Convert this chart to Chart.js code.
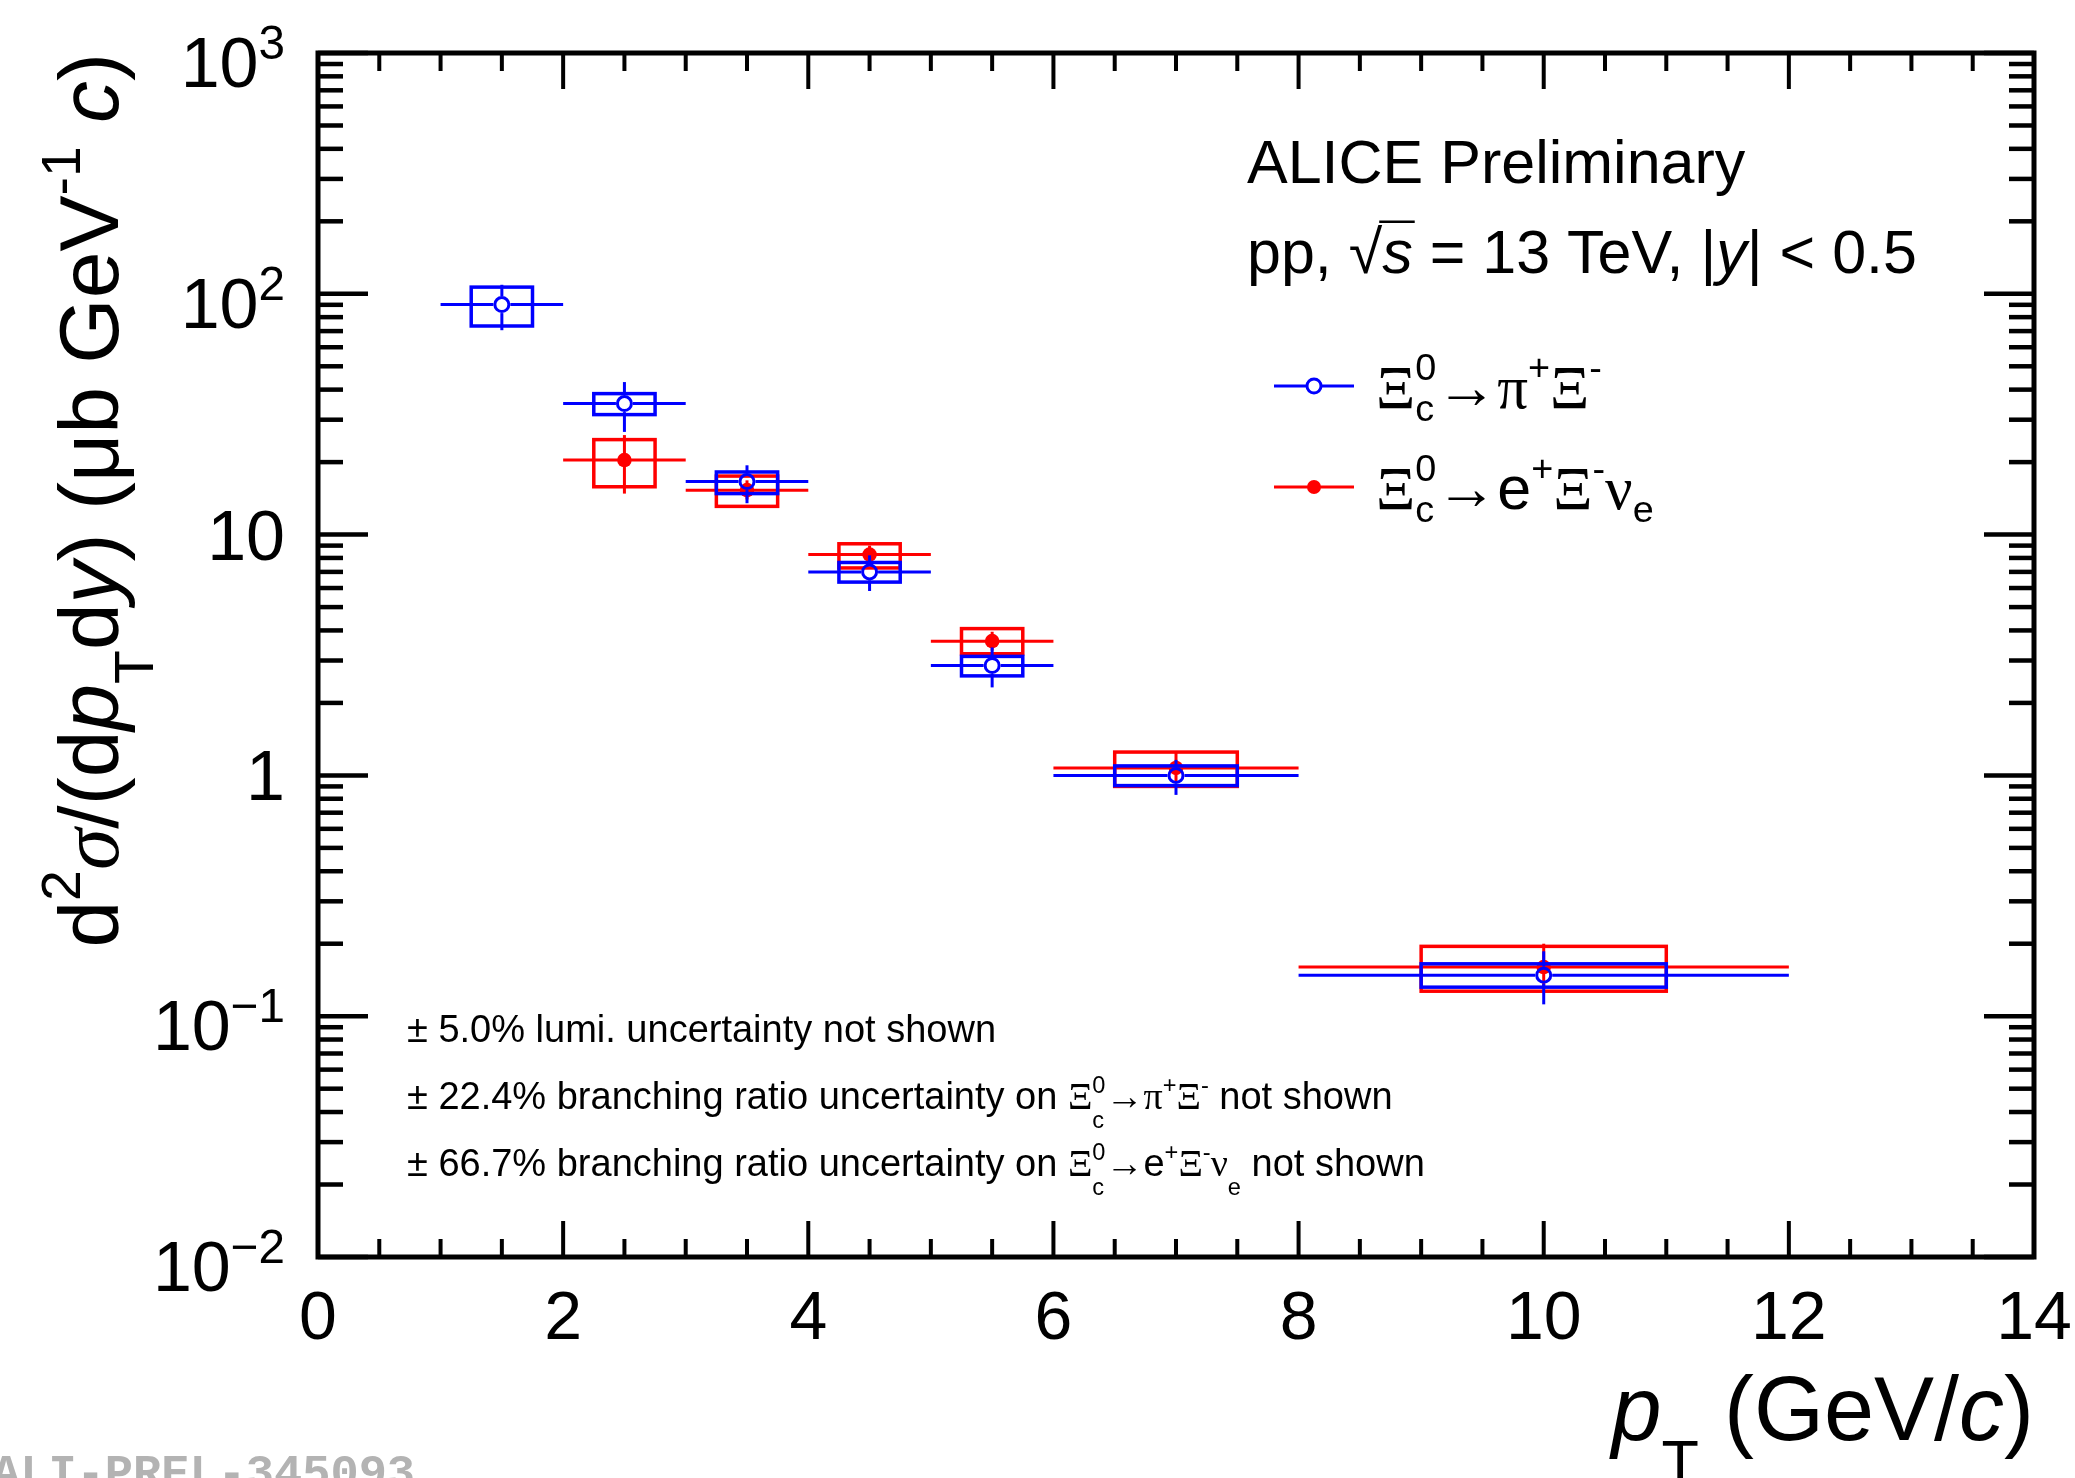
<!DOCTYPE html>
<html lang="en">
  <head>
    <meta charset="UTF-8" />
    <title>Xi_c0 cross section, pp 13 TeV</title>
    <script src="https://cdn.jsdelivr.net/npm/chart.js"></script>
    <style>
      html, body { margin: 0; padding: 0; background: #fff; }
      canvas { display: block; }
    </style>
  </head>
  <body>
    <canvas id="myChart" width="2075" height="1478"></canvas>

    <script>
      // axis ticks
      const xMajor = [0, 2, 4, 6, 8, 10, 12, 14];
      const xLabels = ["0", "2", "4", "6", "8", "10", "12", "14"];
      const yDecades = [0.01, 0.1, 1, 10, 100, 1000];
      const yLabelBase = ["10", "10", "1", "10", "10", "10"];
      const yLabelExp = ["\u22122", "\u22121", "", "", "2", "3"];

      // Xi_c0 -> pi+ Xi- (blue, open circles)
      const ptPiXi = [1.5, 2.5, 3.5, 4.5, 5.5, 7, 10];
      const binPiXi = [0.5, 0.5, 0.5, 0.5, 0.5, 1, 2];
      const boxPiXi = [0.25, 0.25, 0.25, 0.25, 0.25, 0.5, 1];
      const xsecPiXi = [90.2, 35.0, 16.6, 7.0, 2.86, 1.0, 0.148];
      const statLoPiXi = [70.6, 26.7, 13.5, 5.83, 2.32, 0.83, 0.112];
      const statHiPiXi = [109, 43.0, 19.4, 8.2, 3.4, 1.16, 0.186];
      const sysLoPiXi = [73.5, 31.5, 14.8, 6.35, 2.59, 0.907, 0.132];
      const sysHiPiXi = [106.6, 38.5, 18.2, 7.66, 3.12, 1.095, 0.165];

      // Xi_c0 -> e+ Xi- nu_e (red, full circles)
      const ptEXi = [2.5, 3.5, 4.5, 5.5, 7, 10];
      const binEXi = [0.5, 0.5, 0.5, 0.5, 1, 2];
      const boxEXi = [0.25, 0.25, 0.25, 0.25, 0.5, 1];
      const xsecEXi = [20.4, 15.3, 8.26, 3.61, 1.074, 0.16];
      const statLoEXi = [14.8, 14.0, 7.6, 3.3, 0.93, 0.13];
      const statHiEXi = [25.9, 16.8, 9.0, 3.95, 1.25, 0.2];
      const sysLoEXi = [15.8, 13.1, 7.27, 3.2, 0.9, 0.127];
      const sysHiEXi = [24.8, 17.5, 9.16, 4.07, 1.25, 0.195];

      const BLUE = "#0000ff";
      const RED = "#ff0000";
      const SANS = "'Liberation Sans', Arial, Helvetica, sans-serif";
      const SERIF = "'Liberation Serif', 'Times New Roman', serif";

      function fontStr(size, italic, serif) {
        return (italic ? "italic " : "") + size.toFixed(1) + "px " + (serif ? SERIF : SANS);
      }

      // runs: [text, flags]  flags: i italic, g serif, ^ sup, _ sub, & no advance (stack), o overline
      function drawRich(ctx, runs, x0, y0, size, o, align) {
        const items = [];
        let x = 0, held = 0;
        for (const [t, f = ""] of runs) {
          const small = f.includes("^") || f.includes("_");
          const font = fontStr(size * (small ? o.ss : 1), f.includes("i"), f.includes("g"));
          ctx.font = font;
          const w = ctx.measureText(t).width;
          const dy = f.includes("^") ? -size * o.up : f.includes("_") ? size * o.down : 0;
          items.push({ t, x, dy, font, w, over: f.includes("o") });
          if (f.includes("&")) {
            held = w;
          } else {
            x += Math.max(w, held);
            held = 0;
          }
        }
        const shift = align === "right" ? -x : 0;
        ctx.textAlign = "left";
        ctx.textBaseline = "alphabetic";
        for (const it of items) {
          ctx.font = it.font;
          ctx.fillText(it.t, x0 + it.x + shift, y0 + it.dy);
          if (it.over) {
            ctx.save();
            ctx.lineWidth = 2.5;
            ctx.beginPath();
            ctx.moveTo(x0 + it.x + shift - 3, y0 - size * 0.84);
            ctx.lineTo(x0 + it.x + shift + it.w + 2, y0 - size * 0.84);
            ctx.stroke();
            ctx.restore();
          }
        }
        return x;
      }

      function seg(ctx, x1, y1, x2, y2) {
        ctx.beginPath();
        ctx.moveTo(x1, y1);
        ctx.lineTo(x2, y2);
        ctx.stroke();
      }

      // statistical error bars and systematic boxes, drawn below each dataset's markers
      const errorBoxes = {
        id: "errorBoxes",
        beforeDatasetDraw(chart, args) {
          const ds = chart.data.datasets[args.index];
          const { ctx, scales: { x: xs, y: ys } } = chart;
          ctx.save();
          ctx.strokeStyle = ds.borderColor;
          ds.data.forEach((p, i) => {
            const px = xs.getPixelForValue(p.x);
            const py = ys.getPixelForValue(p.y);
            const g = ds.gap;
            ctx.lineWidth = 3;
            seg(ctx, xs.getPixelForValue(p.x - ds.bin[i]), py, px - g, py);
            seg(ctx, px + g, py, xs.getPixelForValue(p.x + ds.bin[i]), py);
            seg(ctx, px, ys.getPixelForValue(ds.statHi[i]), px, py - g);
            seg(ctx, px, py + g, px, ys.getPixelForValue(ds.statLo[i]));
            ctx.lineWidth = 3.5;
            const bx0 = xs.getPixelForValue(p.x - ds.box[i]);
            const bx1 = xs.getPixelForValue(p.x + ds.box[i]);
            const by0 = ys.getPixelForValue(ds.sysHi[i]);
            const by1 = ys.getPixelForValue(ds.sysLo[i]);
            ctx.strokeRect(bx0, by0, bx1 - bx0, by1 - by0);
          });
          ctx.restore();
        },
      };

      // ROOT-like frame with inward ticks on all sides, tick labels and titles
      const frameAndText = {
        id: "frameAndText",
        afterDraw(chart) {
          const { ctx, chartArea: a, scales: { x: xs, y: ys } } = chart;
          ctx.save();
          ctx.strokeStyle = "#000";
          ctx.fillStyle = "#000";

          ctx.lineWidth = 4.5;
          yDecades.forEach((d) => {
            for (let k = 1; k <= 9; k++) {
              const v = d * k;
              if (v > ys.max * 1.0001) break;
              const py = ys.getPixelForValue(v);
              const len = k === 1 ? 50 : 25;
              seg(ctx, a.left, py, a.left + len, py);
              seg(ctx, a.right, py, a.right - len, py);
            }
          });
          ctx.lineWidth = 4;
          for (let v = xs.min; v <= xs.max; v += 0.5) {
            const px = xs.getPixelForValue(v);
            const len = xMajor.includes(v) ? 36 : 18;
            seg(ctx, px, a.bottom, px, a.bottom - len);
            seg(ctx, px, a.top, px, a.top + len);
          }
          ctx.lineWidth = 5;
          ctx.strokeRect(a.left, a.top, a.right - a.left, a.bottom - a.top);

          // y tick labels
          const ly = 70;
          yDecades.forEach((d, i) => {
            const py = ys.getPixelForValue(d);
            const right = a.left - 33;
            ctx.textBaseline = "alphabetic";
            ctx.textAlign = "right";
            let base = py + ly * 0.358;
            if (yLabelExp[i]) {
              base += 9;
              ctx.font = fontStr(ly * 0.68, false, false);
              const we = ctx.measureText(yLabelExp[i]).width;
              ctx.fillText(yLabelExp[i], right, base - ly * 0.4);
              ctx.font = fontStr(ly, false, false);
              ctx.fillText(yLabelBase[i], right - we, base);
            } else {
              ctx.font = fontStr(ly, false, false);
              ctx.fillText(yLabelBase[i], right, base);
            }
          });

          // x tick labels
          ctx.font = fontStr(68, false, false);
          ctx.textAlign = "center";
          xMajor.forEach((v, i) => {
            ctx.fillText(xLabels[i], xs.getPixelForValue(v), 1339);
          });

          // x title
          drawRich(ctx, [["p", "i"], ["T", "_"], [" (GeV/"], ["c", "i"], [")"]],
            a.right, 1440, 90, { ss: 0.68, up: 0.45, down: 0.48 }, "right");

          // y title (rotated)
          ctx.save();
          ctx.translate(118, a.top);
          ctx.rotate(-Math.PI / 2);
          drawRich(ctx, [["d"], ["2", "^"], ["\u03c3", "gi"], ["/(d"], ["p", "i"], ["T", "_"],
            ["d"], ["y", "i"], [") (\u03bcb GeV"], ["-1", "^"], [" "], ["c", "i"], [")"]],
            0, 0, 84, { ss: 0.66, up: 0.45, down: 0.42 }, "right");
          ctx.restore();

          // header
          const hs = 61;
          ctx.font = fontStr(hs, false, false);
          ctx.textAlign = "left";
          ctx.fillText("ALICE Preliminary", 1247, 183);
          drawRich(ctx, [["pp, "], ["\u221a"], ["s", "io"], [" = 13 TeV, |"], ["y", "i"], ["| < 0.5"]],
            1247, 273, hs, { ss: 0.62, up: 0.45, down: 0.2 });

          // legend
          const legend = [
            { color: BLUE, open: true, ly: 386, base: 408,
              runs: [["\u039e", "g"], ["0", "^&"], ["c", "_"], ["\u2192", "g"], ["\u03c0", "g"], ["+", "^"], ["\u039e", "g"], ["-", "^"]] },
            { color: RED, open: false, ly: 487, base: 509,
              runs: [["\u039e", "g"], ["0", "^&"], ["c", "_"], ["\u2192", "g"], ["e"], ["+", "^"], ["\u039e", "g"], ["-", "^"], ["\u03bd", "g"], ["e", "_"]] },
          ];
          legend.forEach((e) => {
            ctx.strokeStyle = e.color;
            ctx.fillStyle = e.color;
            ctx.lineWidth = 3;
            seg(ctx, 1274, e.ly, 1354, e.ly);
            ctx.beginPath();
            ctx.arc(1314, e.ly, 7, 0, Math.PI * 2);
            if (e.open) {
              ctx.fillStyle = "#fff";
              ctx.fill();
              ctx.stroke();
            } else {
              ctx.fill();
            }
            ctx.fillStyle = "#000";
            drawRich(ctx, e.runs, 1376, e.base, hs, { ss: 0.62, up: 0.46, down: 0.22 });
          });

          // notes
          const ns = 38;
          const no = { ss: 0.62, up: 0.42, down: 0.5 };
          ctx.fillStyle = "#000";
          drawRich(ctx, [["\u00b1 5.0% lumi. uncertainty not shown"]], 407, 1042, ns, no);
          drawRich(ctx, [["\u00b1 22.4% branching ratio uncertainty on "], ["\u039e", "g"], ["0", "^&"], ["c", "_"],
            ["\u2192", "g"], ["\u03c0", "g"], ["+", "^"], ["\u039e", "g"], ["-", "^"], [" not shown"]], 407, 1109, ns, no);
          drawRich(ctx, [["\u00b1 66.7% branching ratio uncertainty on "], ["\u039e", "g"], ["0", "^&"], ["c", "_"],
            ["\u2192", "g"], ["e"], ["+", "^"], ["\u039e", "g"], ["-", "^"], ["\u03bd", "g"], ["e", "_"], [" not shown"]], 407, 1176, ns, no);

          // watermark
          ctx.fillStyle = "#b3b3b3";
          ctx.font = "bold 47px 'Liberation Mono', 'DejaVu Sans Mono', monospace";
          ctx.fillText("ALI-PREL-345093", -8, 1487);
          ctx.restore();
        },
      };

      const ctx = document.getElementById("myChart").getContext("2d");
      new Chart(ctx, {
        type: "scatter",
        data: {
          datasets: [
            {
              label: "\u039ec0 \u2192 \u03c0+\u039e-",
              data: ptPiXi.map((x, i) => ({ x, y: xsecPiXi[i] })),
              bin: binPiXi, box: boxPiXi,
              statLo: statLoPiXi, statHi: statHiPiXi,
              sysLo: sysLoPiXi, sysHi: sysHiPiXi,
              gap: 8.5,
              borderColor: BLUE,
              backgroundColor: "rgba(0,0,0,0)",
              pointRadius: 7,
              pointBorderWidth: 3,
            },
            {
              label: "\u039ec0 \u2192 e+\u039e-\u03bde",
              data: ptEXi.map((x, i) => ({ x, y: xsecEXi[i] })),
              bin: binEXi, box: boxEXi,
              statLo: statLoEXi, statHi: statHiEXi,
              sysLo: sysLoEXi, sysHi: sysHiEXi,
              gap: 0,
              borderColor: RED,
              backgroundColor: RED,
              pointRadius: 7.3,
              pointBorderWidth: 0,
            },
          ],
        },
        options: {
          responsive: false,
          animation: false,
          layout: { padding: { left: 318, top: 53, right: 41, bottom: 221 } },
          scales: {
            x: { type: "linear", min: 0, max: 14, display: false },
            y: { type: "logarithmic", min: 0.01, max: 1000, display: false },
          },
          plugins: {
            legend: { display: false },
            tooltip: { enabled: false },
          },
        },
        plugins: [errorBoxes, frameAndText],
      });
    </script>
  </body>
</html>
